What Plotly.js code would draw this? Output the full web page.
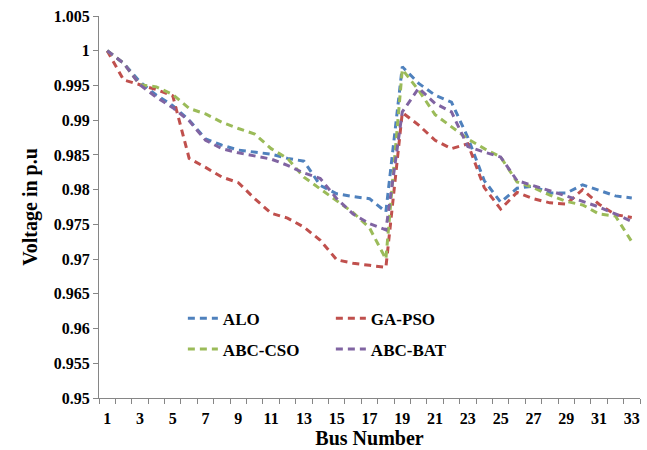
<!DOCTYPE html>
<html>
<head>
<meta charset="utf-8">
<script src="https://cdn.plot.ly/plotly-3.0.1.min.js"></script>
<style>
html,body{margin:0;padding:0;background:#fff;}
#chart{width:647px;height:450px;}
</style>
</head>
<body>
<div id="chart"></div>
<script>
const busNumbers = [1,2,3,4,5,6,7,8,9,10,11,12,13,14,15,16,17,18,19,20,21,22,23,24,25,26,27,28,29,30,31,32,33];
const xTickLabels = ["1","3","5","7","9","11","13","15","17","19","21","23","25","27","29","31","33"];
const yTickValues = [0.95,0.955,0.96,0.965,0.97,0.975,0.98,0.985,0.99,0.995,1,1.005];
const yTickLabels = ["0.95","0.955","0.96","0.965","0.97","0.975","0.98","0.985","0.99","0.995","1","1.005"];

const aloV = [1.0,0.9982,0.9955,0.9936,0.9921,0.9900,0.9873,0.9864,0.9857,0.9854,0.9851,0.9845,0.9841,0.9806,0.9794,0.9790,0.9787,0.9768,0.9977,0.9953,0.9936,0.9926,0.9875,0.9813,0.9782,0.9802,0.9805,0.9795,0.9795,0.9807,0.9799,0.9791,0.9788];
const gaPsoV = [1.0,0.9958,0.9951,0.9944,0.9935,0.9845,0.9832,0.9818,0.9810,0.9787,0.9766,0.9759,0.9746,0.9727,0.9699,0.9694,0.9691,0.9688,0.9911,0.9893,0.9871,0.9859,0.9866,0.9803,0.9772,0.9796,0.9787,0.9781,0.9779,0.9800,0.9779,0.9764,0.9760];
const abcCsoV = [1.0,0.9982,0.9951,0.9948,0.9937,0.9917,0.9909,0.9897,0.9888,0.9880,0.9859,0.9845,0.9818,0.9801,0.9784,0.9767,0.9745,0.9700,0.9973,0.9943,0.9908,0.9890,0.9873,0.9859,0.9847,0.9811,0.9803,0.9792,0.9783,0.9778,0.9765,0.9762,0.9725];
const abcBatV = [1.0,0.9982,0.9951,0.9933,0.9918,0.9899,0.9871,0.9859,0.9853,0.9849,0.9844,0.9835,0.9824,0.9816,0.9787,0.9765,0.9751,0.9742,0.9912,0.9946,0.9924,0.9912,0.9862,0.9854,0.9847,0.9813,0.9806,0.9798,0.9791,0.9783,0.9775,0.9765,0.9754];

const seriesNames = ["ALO","GA-PSO","ABC-CSO","ABC-BAT"];
const seriesColors = ["#4F81BD","#C0504D","#9BBB59","#8064A2"];
const seriesValues = [aloV, gaPsoV, abcCsoV, abcBatV];
const legendIds = ["legend","legend","legend2","legend2"];

const FONT = "Liberation Serif";
const bold = t => "<b>" + t + "</b>";

const traces = seriesValues.map((vals, i) => ({
  type: "scatter",
  mode: "lines",
  x: busNumbers,
  y: vals,
  name: bold(seriesNames[i]),
  legend: legendIds[i],
  line: {color: seriesColors[i], width: 3, dash: "7px,5px"}
}));

// invisible trace to host the secondary x axis (tick marks between categories)
traces.push({type:"scatter", mode:"none", x:[busNumbers[0]], y:[yTickValues[0]], xaxis:"x2", showlegend:false, hoverinfo:"skip"});

const boundaryTicks = busNumbers.map(b => b - 0.5).concat([busNumbers[busNumbers.length-1] + 0.5]);
const oddTicks = xTickLabels.map(Number);

const tickFont = {family: FONT, size: 16, color: "#000"};
const titleFont = {family: FONT, size: 20, color: "#000"};
const legFont = {family: FONT, size: 17, color: "#000"};

const layout = {
  width: 647, height: 450,
  margin: {l: 99, r: 7, t: 16, b: 52},
  paper_bgcolor: "#fff", plot_bgcolor: "#fff",
  showlegend: true,
  xaxis: {
    range: [0.5, 33.5], showgrid: false, zeroline: false,
    showline: true, linecolor: "#868686", linewidth: 1,
    tickmode: "array", tickvals: oddTicks, ticktext: xTickLabels.map(bold),
    ticks: "", ticklabelstandoff: 6, tickfont: tickFont,
    title: {text: bold("Bus Number"), font: titleFont, standoff: 2}
  },
  xaxis2: {
    overlaying: "x", anchor: "y", side: "bottom",
    range: [0.5, 33.5], showgrid: false, zeroline: false, showline: false,
    tickmode: "array", tickvals: boundaryTicks, ticks: "outside", ticklen: 5,
    tickcolor: "#868686", showticklabels: false
  },
  yaxis: {
    range: [0.95, 1.005], showgrid: false, zeroline: false,
    showline: true, linecolor: "#868686", linewidth: 1,
    tickmode: "array", tickvals: yTickValues, ticktext: yTickLabels.map(bold),
    ticks: "outside", ticklen: 5, tickcolor: "#868686",
    tickfont: tickFont,
    title: {text: bold("Voltage in p.u"), font: titleFont, standoff: 10}
  },
  legend: {
    x: 0.155, y: 0.255, xanchor: "left", yanchor: "top",
    orientation: "h", entrywidth: 103, entrywidthmode: "pixels",
    bgcolor: "rgba(0,0,0,0)", font: legFont
  },
  legend2: {
    x: 0.155, y: 0.174, xanchor: "left", yanchor: "top",
    orientation: "h", entrywidth: 103, entrywidthmode: "pixels",
    bgcolor: "rgba(0,0,0,0)", font: legFont
  }
};

Plotly.newPlot("chart", traces, layout, {displayModeBar: false, staticPlot: true});
</script>
</body>
</html>
